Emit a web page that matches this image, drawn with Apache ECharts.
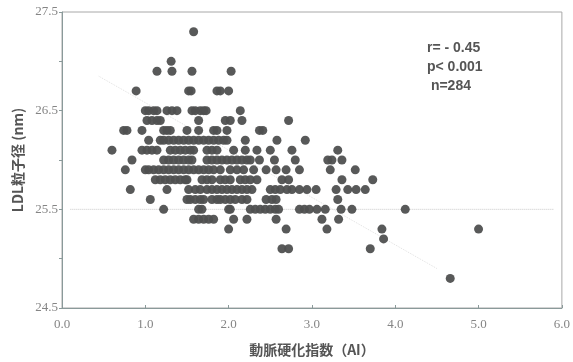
<!DOCTYPE html>
<html>
<head>
<meta charset="utf-8">
<script src="https://cdn.jsdelivr.net/npm/echarts@6/dist/echarts.min.js"></script>
<style>
  html, body { margin: 0; padding: 0; background: #fff; }
  #main { width: 573px; height: 362px; }
</style>
</head>
<body>
<div id="main"></div>
<script>
// LDL粒子径 rows (nm) and the AI values of the dots in each row
const ldlLevels = [27.3, 27.0, 26.9, 26.7, 26.5, 26.4, 26.3, 26.2, 26.1, 26.0, 25.9, 25.8, 25.7, 25.6, 25.5, 25.4, 25.3, 25.2, 25.1, 24.8];
const aiByLevel = [
  [1.58],
  [1.31],
  [1.14, 1.32, 1.56, 2.03],
  [0.89, 1.52, 1.55, 1.86, 1.9, 2.0],
  [1.0, 1.04, 1.1, 1.14, 1.26, 1.32, 1.38, 1.56, 1.6, 1.66, 1.7, 1.73, 2.14],
  [1.02, 1.08, 1.14, 1.18, 1.64, 1.96, 2.02, 2.16, 2.72],
  [0.74, 0.78, 0.96, 1.22, 1.26, 1.3, 1.5, 1.64, 1.82, 1.86, 1.98, 2.37, 2.41],
  [1.04, 1.18, 1.22, 1.28, 1.34, 1.4, 1.46, 1.52, 1.58, 1.64, 1.7, 1.76, 1.82, 1.88, 1.94, 1.98, 2.2, 2.58, 2.92],
  [0.6, 0.96, 1.02, 1.08, 1.14, 1.3, 1.36, 1.42, 1.48, 1.54, 1.58, 1.74, 1.8, 1.86, 2.06, 2.2, 2.34, 2.5, 2.76, 3.31],
  [0.84, 1.22, 1.28, 1.34, 1.4, 1.46, 1.52, 1.56, 1.74, 1.8, 1.86, 1.92, 1.98, 2.04, 2.1, 2.16, 2.22, 2.26, 2.37, 2.55, 2.8, 3.19, 3.24, 3.36],
  [0.76, 1.0, 1.04, 1.1, 1.16, 1.22, 1.28, 1.34, 1.4, 1.46, 1.52, 1.58, 1.64, 1.7, 1.76, 1.82, 1.9, 2.02, 2.1, 2.18, 2.3, 2.45, 2.57, 2.69, 2.85, 3.22, 3.52],
  [1.12, 1.18, 1.24, 1.3, 1.36, 1.42, 1.48, 1.5, 1.68, 1.74, 1.8, 1.9, 1.96, 2.02, 2.14, 2.2, 2.26, 2.34, 2.64, 2.72, 3.36, 3.73],
  [0.82, 1.26, 1.52, 1.6, 1.66, 1.74, 1.8, 1.86, 1.92, 1.98, 2.04, 2.1, 2.16, 2.22, 2.28, 2.5, 2.56, 2.62, 2.7, 2.76, 2.85, 2.94, 3.05, 3.29, 3.43, 3.53, 3.64],
  [1.06, 1.5, 1.54, 1.6, 1.66, 1.7, 1.8, 1.86, 1.9, 1.96, 2.02, 2.08, 2.16, 2.22, 2.45, 2.52, 2.57, 3.31],
  [1.22, 1.64, 1.68, 2.0, 2.02, 2.26, 2.32, 2.38, 2.44, 2.5, 2.56, 2.6, 2.85, 2.91, 2.97, 3.06, 3.16, 3.35, 3.48, 4.12],
  [1.58, 1.64, 1.7, 1.76, 1.82, 2.06, 2.22, 2.57, 3.12, 3.32],
  [2.0, 2.69, 3.18, 3.84, 5.0],
  [3.86],
  [2.64, 2.72, 3.7],
  [4.66]
];

// faint regression line and the 25.5 reference line
const regX = [0.44, 4.5];
const regY = [26.85, 24.9];
const refX = [0.1, 5.9];
const refY = [25.5, 25.5];

const statLines = ['r= - 0.45', 'p< 0.001', ' n=284'];

const points = [];
ldlLevels.forEach(function (y, i) {
  aiByLevel[i].forEach(function (x) { points.push([x, y]); });
});

var myChart = echarts.init(document.getElementById('main'));
var tickFont = { fontFamily: 'Liberation Serif', fontSize: 13, color: '#858585' };

var option = {
  animation: false,
  grid: {
    left: 62, right: 10, top: 12, bottom: 53,
    show: true, borderColor: '#a8a8a8', borderWidth: 1
  },
  xAxis: {
    type: 'value',
    min: 0, max: 6, interval: 1,
    name: '動脈硬化指数（AI）',
    nameLocation: 'middle',
    nameGap: 35,
    nameTextStyle: { fontFamily: 'Noto Sans CJK JP', fontWeight: 'bold', fontSize: 14, color: '#555' },
    axisLine: { lineStyle: { color: '#8a9a9a' } },
    axisTick: { inside: true, length: 3, lineStyle: { color: '#8a9a9a' } },
    axisLabel: Object.assign({ margin: 10, formatter: function (v) { return v.toFixed(1); } }, tickFont),
    splitLine: { show: false }
  },
  yAxis: {
    type: 'value',
    min: 24.5, max: 27.5, interval: 0.5,
    name: 'LDL粒子径 (nm)',
    nameLocation: 'middle',
    nameGap: 36,
    nameTextStyle: { fontFamily: 'Noto Sans CJK JP', fontWeight: 'bold', fontSize: 14, color: '#555' },
    axisLine: { show: true, lineStyle: { color: '#8a9a9a' } },
    axisTick: { length: 3, lineStyle: { color: '#8a9a9a' } },
    axisLabel: Object.assign({
      margin: 4,
      formatter: function (v) { return (Math.round(v * 10) % 10 === 5) ? v.toFixed(1) : ''; }
    }, tickFont),
    splitLine: { show: false }
  },
  graphic: [{
    type: 'text',
    left: 427, top: 39,
    style: {
      text: statLines.join('\n'),
      font: 'bold 14px "Liberation Sans"',
      fill: '#555',
      lineHeight: 19
    }
  }],
  series: [
    {
      type: 'line',
      data: refX.map(function (x, i) { return [x, refY[i]]; }),
      symbol: 'none',
      lineStyle: { color: '#c8c8c8', width: 1, type: 'dotted' },
      z: 1
    },
    {
      type: 'line',
      data: regX.map(function (x, i) { return [x, regY[i]]; }),
      symbol: 'none',
      lineStyle: { color: '#e0e0e0', width: 1, type: 'dotted' },
      z: 1
    },
    {
      type: 'scatter',
      data: points,
      symbol: 'circle',
      symbolSize: 9,
      itemStyle: { color: '#4f5050', opacity: 0.95 },
      z: 3
    }
  ]
};

myChart.setOption(option);
</script>
</body>
</html>
